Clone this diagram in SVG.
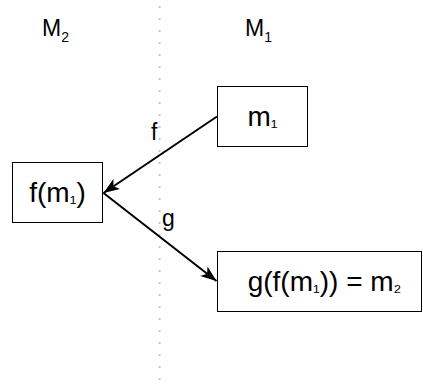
<svg xmlns="http://www.w3.org/2000/svg" width="423" height="387" viewBox="0 0 423 387">
<style>
.box{fill:#fff;stroke:#000;stroke-width:1}
.t{font-family:"Liberation Sans",Arial,sans-serif;fill:#000}
.bt{font-size:28px;text-anchor:middle}
.lab{font-size:23px}
.sub{font-size:14px}
.us{font-size:20px}
.edge{stroke:#000;stroke-width:2;fill:none;marker-end:url(#ah)}
</style>
<defs>
<marker id="ah" markerUnits="userSpaceOnUse" markerWidth="18" markerHeight="14" refX="16" refY="7" orient="auto" viewBox="0 0 18 14">
<path d="M0,1 L16,7 L0,13 L4,7 Z" fill="#000"/>
</marker>
</defs>
<g id="divider">
<line x1="159.5" y1="6" x2="159.5" y2="384" stroke="#c8c8c8" stroke-width="2" stroke-dasharray="2 10"/>
</g>
<g id="label-M2"><text class="t lab" x="42" y="36">M<tspan class="sub" dy="6">2</tspan></text></g>
<g id="label-M1"><text class="t lab" x="245" y="36">M<tspan class="sub" dy="6">1</tspan></text></g>
<g id="connectors">
<line class="edge" x1="217" y1="116.5" x2="103.5" y2="193"/>
<line class="edge" x1="103.5" y1="193" x2="216.5" y2="281"/>
<text class="t lab" x="151" y="140">f</text>
<text class="t lab" x="162" y="226">g</text>
</g>
<g id="node-m1">
<rect class="box" x="217.5" y="86.5" width="90" height="60"/>
<text class="t bt" x="262.5" y="126">m<tspan class="us">₁</tspan></text>
</g>
<g id="node-fm1">
<rect class="box" x="12.5" y="162.5" width="90" height="60"/>
<text class="t bt" x="57.5" y="202">f(m<tspan class="us">₁</tspan>)</text>
</g>
<g id="node-gfm1">
<rect class="box" x="217.5" y="251.5" width="204" height="60"/>
<text class="t bt" x="324.5" y="291">g(f(m<tspan class="us">₁</tspan>)) = m<tspan class="us">₂</tspan></text>
</g>
</svg>
